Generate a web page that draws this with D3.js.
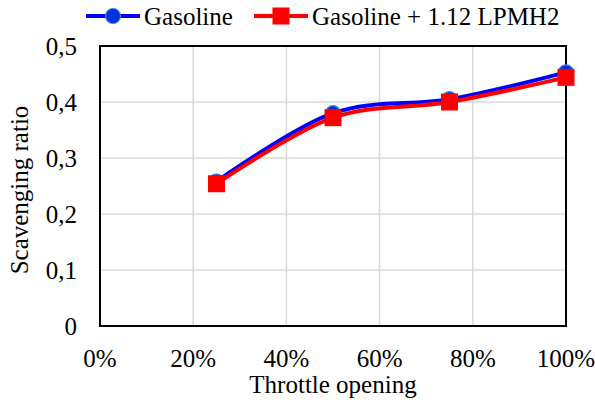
<!DOCTYPE html>
<html><head><meta charset="utf-8">
<script src="https://cdn.jsdelivr.net/npm/d3@7"></script>
<style>body{margin:0;background:#fff}svg{display:block}</style>
</head><body>
<svg id="c" width="595" height="403"></svg>
<script>
const throttle = [0.25, 0.50, 0.75, 1.00];
const gasoline = [0.258, 0.380, 0.405, 0.453];
const hydrogen = [0.254, 0.372, 0.400, 0.444];
const xTicks = [0, 0.2, 0.4, 0.6, 0.8, 1.0];
const yTicks = [0, 0.1, 0.2, 0.3, 0.4, 0.5];
const seriesNames = ["Gasoline", "Gasoline + 1.12 LPMH2"];

const FS = 22, K = 25 / 22, FF = "Liberation Serif";
const svg = d3.select("#c");
const L = 100, R = 566, T = 46, B = 326;
const x = d3.scaleLinear().domain([0, 1]).range([L, R]);
const y = d3.scaleLinear().domain([0, 0.5]).range([B, T]);
const txt = sel => sel.attr("font-family", FF).attr("font-size", FS).attr("fill", "#000");
const at = (px, py, rot) => `translate(${px},${py})${rot ? " rotate(" + rot + ")" : ""} scale(${K})`;

svg.append("g").selectAll("line").data(xTicks.slice(1, -1)).join("line")
  .attr("x1", d => x(d)).attr("x2", d => x(d)).attr("y1", T).attr("y2", B)
  .attr("stroke", "#d9d9d9").attr("stroke-width", 1.5);
svg.append("g").selectAll("line").data(yTicks.slice(1, -1)).join("line")
  .attr("x1", L).attr("x2", R).attr("y1", d => y(d)).attr("y2", d => y(d))
  .attr("stroke", "#d9d9d9").attr("stroke-width", 1.5);

svg.append("rect").attr("x", L).attr("y", T).attr("width", R - L).attr("height", B - T)
  .attr("fill", "none").attr("stroke", "#000").attr("stroke-width", 2);

const fmtPct = d => Math.round(d * 100) + "%";
const fmtY = d => d === 0 ? "0" : d.toFixed(1).replace(".", ",");
svg.append("g").selectAll("text").data(xTicks).join("text")
  .attr("transform", d => at(x(d), 367)).attr("text-anchor", "middle")
  .call(txt).text(fmtPct);
svg.append("g").selectAll("text").data(yTicks).join("text")
  .attr("transform", d => at(77, y(d) + 9)).attr("text-anchor", "end")
  .call(txt).text(fmtY);

svg.append("text").attr("transform", at(333, 393)).attr("text-anchor", "middle")
  .call(txt).text("Throttle opening");
svg.append("text").attr("transform", at(28, 190, -90)).attr("text-anchor", "middle")
  .call(txt).text("Scavenging ratio");

const line = d3.line().x(d => x(d[0])).y(d => y(d[1])).curve(d3.curveCatmullRom.alpha(0));
const g1 = throttle.map((t, i) => [t, gasoline[i]]);
const g2 = throttle.map((t, i) => [t, hydrogen[i]]);
svg.append("path").attr("d", line(g1)).attr("fill", "none").attr("stroke", "#0000ff").attr("stroke-width", 4);
svg.selectAll(".c1").data(g1).join("circle").attr("cx", d => x(d[0])).attr("cy", d => y(d[1]))
  .attr("r", 7.5).attr("fill", "#0033dd").attr("stroke", "#4a7fe0").attr("stroke-width", 1.2);
svg.append("path").attr("d", line(g2)).attr("fill", "none").attr("stroke", "#ff0000").attr("stroke-width", 4);
svg.selectAll(".s2").data(g2).join("rect").attr("x", d => x(d[0]) - 8.5).attr("y", d => y(d[1]) - 8.5)
  .attr("width", 17).attr("height", 17).attr("fill", "#ff0000");

const lg = svg.append("g");
lg.append("line").attr("x1", 86).attr("x2", 140).attr("y1", 16).attr("y2", 16).attr("stroke", "#0000ff").attr("stroke-width", 4);
lg.append("circle").attr("cx", 113).attr("cy", 16).attr("r", 7.5).attr("fill", "#0033dd").attr("stroke", "#4a7fe0").attr("stroke-width", 1.2);
lg.append("text").attr("transform", at(144, 25)).call(txt).text(seriesNames[0]);
lg.append("line").attr("x1", 254).attr("x2", 308).attr("y1", 16).attr("y2", 16).attr("stroke", "#ff0000").attr("stroke-width", 4);
lg.append("rect").attr("x", 272.5).attr("y", 7.5).attr("width", 17).attr("height", 17).attr("fill", "#ff0000");
lg.append("text").attr("transform", at(312, 25)).call(txt).text(seriesNames[1]);
</script>
</body></html>
